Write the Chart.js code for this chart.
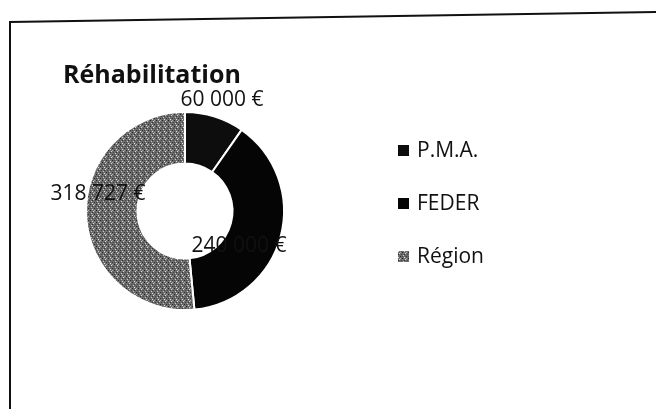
<!DOCTYPE html>
<html>
<head>
<meta charset="utf-8">
<title>Réhabilitation</title>
<script src="https://cdn.jsdelivr.net/npm/chart.js"></script>
<style>
  html, body { margin: 0; padding: 0; background: #fff; overflow: hidden; }
  #wrap { position: relative; width: 656px; height: 409px; }
</style>
</head>
<body>
<div id="wrap"><canvas id="myChart" width="656" height="409"></canvas></div>
<script>
// chart data
const labels = ['P.M.A.', 'FEDER', 'Région'];
const values = [60000, 240000, 318727];
const valueLabels = ['60 000 €', '240 000 €', '318 727 €'];

// grey speckled fill for the "Région" slice (looks like the scanned texture)
function speckle() {
  const c = document.createElement('canvas');
  c.width = 6; c.height = 6;
  const g = c.getContext('2d');
  g.fillStyle = '#6c6c6c';
  g.fillRect(0, 0, 6, 6);
  const dots = [[0,0,'#222'],[3,1,'#d8d8d8'],[1,3,'#c8c8c8'],[4,4,'#2b2b2b'],[5,2,'#444'],[2,5,'#e0e0e0'],[0,4,'#4a4a4a'],[4,0,'#aaa'],[2,2,'#333']];
  dots.forEach(([x, y, col]) => { g.fillStyle = col; g.fillRect(x, y, 1, 1); });
  return g.createPattern(c, 'repeat');
}

const ctx = document.getElementById('myChart').getContext('2d');
const colors = ['#0d0d0d', '#050505', speckle()];

// where the value text sits: radius factor and extra offset from the slice mid angle
const labelPos = [
  { r: 1.18, dx: 2, dy: 0 },
  { r: 0.70, dx: -13, dy: 17 },
  { r: 0.88, dx: 0, dy: -21 }
];

const extras = {
  id: 'extras',
  afterDraw(chart) {
    const c = chart.ctx;
    // frame lines of the scanned page
    c.save();
    c.strokeStyle = '#111';
    c.lineWidth = 2;
    c.beginPath();
    c.moveTo(10, 409);
    c.lineTo(10, 22);
    c.lineTo(656, 12);
    c.stroke();

    // title
    c.fillStyle = '#111';
    c.font = 'bold 25px "Open Sans", sans-serif';
    c.textBaseline = 'alphabetic';
    c.textAlign = 'left';
    c.fillText('Réhabilitation', 63, 83);

    // data labels
    const meta = chart.getDatasetMeta(0);
    c.font = '21px "Open Sans", sans-serif';
    c.textBaseline = 'middle';
    c.textAlign = 'center';
    meta.data.forEach((arc, i) => {
      const mid = (arc.startAngle + arc.endAngle) / 2;
      const r = arc.outerRadius * labelPos[i].r;
      const x = arc.x + Math.cos(mid) * r + labelPos[i].dx;
      const y = arc.y + Math.sin(mid) * r + labelPos[i].dy;
      c.fillStyle = '#111';
      c.fillText(valueLabels[i], x, y);
    });

    // legend
    c.textAlign = 'left';
    c.font = '21px "Open Sans", sans-serif';
    labels.forEach((lab, i) => {
      const y = 151 + i * 53;
      c.fillStyle = colors[i];
      c.fillRect(398, y - 6, 11, 11);
      c.fillStyle = '#111';
      c.fillText(lab, 417, y);
    });
    c.restore();
  }
};

new Chart(ctx, {
  type: 'doughnut',
  data: {
    labels: labels,
    datasets: [{
      data: values,
      backgroundColor: colors,
      borderColor: '#fff',
      borderWidth: 2
    }]
  },
  options: {
    responsive: false,
    animation: false,
    cutout: '48%',
    layout: { padding: { left: 85, right: 371, top: 111, bottom: 98 } },
    plugins: { legend: { display: false }, tooltip: { enabled: false } }
  },
  plugins: [extras]
});
</script>
</body>
</html>
